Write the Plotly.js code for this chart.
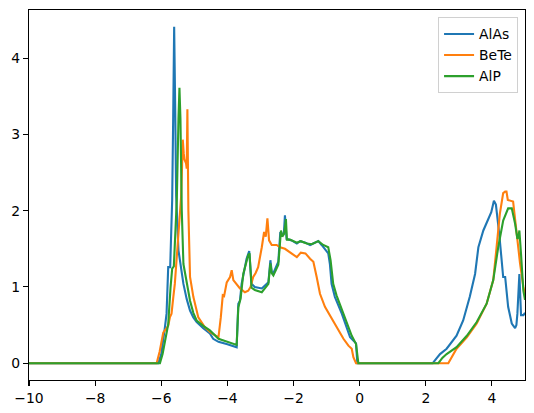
<!DOCTYPE html>
<html>
<head>
<meta charset="utf-8">
<script src="https://cdn.plot.ly/plotly-3.0.1.min.js"></script>
<style>
  html, body { margin: 0; padding: 0; background: #fff; }
  #chart { width: 534px; height: 413px; }
</style>
</head>
<body>
<div id="chart"></div>
<script>
// values (energy, density)
const alasX = [-10, -6.09, -6.0, -5.94, -5.89, -5.84, -5.80, -5.79, -5.73, -5.70, -5.67, -5.64, -5.61, -5.58, -5.55, -5.48, -5.40, -5.33, -5.23, -5.13, -5.03, -4.93, -4.73, -4.53, -4.43, -4.27, -4.0, -3.72, -3.67, -3.62, -3.57, -3.42, -3.34, -3.30, -3.27, -3.17, -2.96, -2.76, -2.70, -2.66, -2.61, -2.46, -2.40, -2.36, -2.29, -2.26, -2.21, -2.06, -1.90, -1.80, -1.64, -1.50, -1.40, -1.25, -1.15, -1.05, -0.95, -0.90, -0.85, -0.75, -0.54, -0.29, -0.17, -0.11, -0.07, 2.21, 2.30, 2.43, 2.63, 2.93, 3.13, 3.33, 3.49, 3.59, 3.74, 3.90, 3.98, 4.06, 4.12, 4.22, 4.34, 4.40, 4.49, 4.60, 4.70, 4.74, 4.77, 4.83, 4.86, 4.88, 4.95, 5.0];
const alasY = [0, 0, 0.12, 0.29, 0.47, 0.65, 1.2, 1.26, 1.26, 1.8, 2.14, 3.2, 4.41, 3.4, 2.2, 1.48, 1.22, 1.04, 0.84, 0.69, 0.60, 0.54, 0.46, 0.39, 0.32, 0.28, 0.25, 0.21, 0.78, 0.82, 1.04, 1.37, 1.47, 1.2, 1.04, 1.0, 0.98, 1.06, 1.35, 1.2, 1.18, 1.33, 1.72, 1.66, 1.72, 1.94, 1.63, 1.61, 1.57, 1.60, 1.58, 1.55, 1.57, 1.60, 1.55, 1.50, 1.44, 1.30, 1.04, 0.87, 0.65, 0.34, 0.28, 0.26, 0, 0, 0.05, 0.12, 0.19, 0.36, 0.56, 0.87, 1.17, 1.52, 1.74, 1.90, 1.98, 2.13, 2.08, 1.70, 1.13, 1.13, 0.74, 0.52, 0.46, 0.50, 0.65, 1.17, 0.8, 0.63, 0.63, 0.66];

const beteX = [-10, -6.14, -6.05, -5.99, -5.94, -5.89, -5.79, -5.74, -5.69, -5.64, -5.59, -5.53, -5.48, -5.43, -5.40, -5.37, -5.35, -5.32, -5.30, -5.25, -5.23, -5.21, -5.18, -5.13, -5.03, -4.88, -4.68, -4.50, -4.27, -4.20, -4.14, -4.10, -4.02, -3.92, -3.87, -3.82, -3.72, -3.62, -3.47, -3.37, -3.30, -3.22, -3.15, -3.07, -2.96, -2.89, -2.84, -2.79, -2.74, -2.66, -2.51, -2.41, -2.26, -2.01, -1.90, -1.78, -1.64, -1.50, -1.40, -1.30, -1.20, -1.05, -0.90, -0.70, -0.49, -0.34, -0.24, -0.19, -0.11, 2.68, 2.93, 3.24, 3.54, 3.84, 4.04, 4.14, 4.24, 4.34, 4.40, 4.44, 4.48, 4.64, 4.74, 4.85, 4.95, 5.0];
const beteY = [0, 0, 0.15, 0.29, 0.40, 0.43, 0.49, 0.60, 0.65, 0.85, 1.04, 1.40, 1.70, 2.0, 2.18, 2.6, 2.93, 2.75, 2.67, 2.62, 2.55, 3.33, 2.0, 1.13, 0.87, 0.60, 0.47, 0.40, 0.34, 0.60, 0.89, 0.88, 1.06, 1.13, 1.22, 1.09, 1.03, 0.98, 0.93, 0.95, 1.0, 1.13, 1.18, 1.26, 1.52, 1.72, 1.66, 1.90, 1.61, 1.55, 1.55, 1.52, 1.50, 1.42, 1.39, 1.45, 1.44, 1.37, 1.33, 1.13, 0.91, 0.74, 0.63, 0.47, 0.32, 0.23, 0.19, 0.08, 0, 0, 0.19, 0.34, 0.52, 0.78, 1.09, 1.52, 1.96, 2.23, 2.25, 2.25, 2.14, 2.12, 1.70, 1.31, 1.0, 0.9];

const alpX = [-10, -6.04, -5.96, -5.89, -5.79, -5.72, -5.67, -5.62, -5.58, -5.53, -5.48, -5.45, -5.42, -5.38, -5.33, -5.23, -5.13, -5.03, -4.93, -4.73, -4.53, -4.27, -4.0, -3.72, -3.67, -3.64, -3.60, -3.52, -3.37, -3.33, -3.30, -3.27, -3.17, -2.96, -2.76, -2.70, -2.66, -2.61, -2.46, -2.38, -2.34, -2.28, -2.23, -2.20, -2.11, -1.90, -1.78, -1.60, -1.45, -1.25, -1.10, -0.95, -0.88, -0.80, -0.70, -0.49, -0.24, -0.11, -0.04, 2.38, 2.50, 2.63, 2.93, 3.24, 3.54, 3.84, 4.04, 4.19, 4.34, 4.49, 4.60, 4.70, 4.77, 4.80, 4.83, 4.88, 4.95, 5.0];
const alpY = [0, 0, 0.12, 0.29, 0.51, 0.99, 1.24, 1.27, 1.6, 2.14, 3.2, 3.61, 3.2, 2.0, 1.30, 1.05, 0.82, 0.66, 0.56, 0.49, 0.43, 0.32, 0.28, 0.24, 0.73, 0.80, 0.85, 1.17, 1.42, 1.44, 1.2, 0.99, 0.96, 0.93, 1.04, 1.31, 1.18, 1.15, 1.29, 1.74, 1.66, 1.70, 1.89, 1.62, 1.62, 1.58, 1.60, 1.57, 1.56, 1.60, 1.55, 1.52, 1.35, 1.04, 0.89, 0.65, 0.36, 0.25, 0, 0, 0.07, 0.12, 0.21, 0.36, 0.54, 0.78, 1.09, 1.52, 1.87, 2.03, 2.03, 1.83, 1.63, 1.65, 1.74, 1.43, 0.95, 0.83];

const seriesNames = ['AlAs', 'BeTe', 'AlP'];
const seriesColors = ['#1f77b4', '#ff7f0e', '#2ca02c'];

const font = {family: 'DejaVu Sans, sans-serif', size: 13.9, color: '#000'};

function line(x, y, i) {
	return {
		x: x,
		y: y,
		name: seriesNames[i],
		mode: 'lines',
		type: 'scatter',
		line: {color: seriesColors[i], width: 2.1},
		hoverinfo: 'skip'
	}
}

const traces = [
	line(alasX, alasY, 0),
	line(beteX, beteY, 1),
	line(alpX, alpY, 2)
];

const axis = {
	showgrid: false,
	zeroline: false,
	showline: true,
	mirror: true,
	linecolor: '#000',
	linewidth: 1.1,
	ticks: 'outside',
	ticklen: 5,
	tickwidth: 1.1,
	tickcolor: '#000',
	tickfont: font
};

const layout = {
	width: 534,
	height: 413,
	margin: {l: 29, r: 9, t: 10, b: 33, pad: 0},
	paper_bgcolor: '#fff',
	plot_bgcolor: '#fff',
	font: font,
	showlegend: true,
	xaxis: Object.assign({}, axis, {range: [-10, 5], dtick: 2, tick0: 0}),
	yaxis: Object.assign({}, axis, {range: [-0.22, 4.63], dtick: 1, tick0: 0}),
	legend: {
		x: 0.986,
		y: 0.98,
		xanchor: 'right',
		yanchor: 'top',
		bgcolor: 'rgba(255,255,255,0.8)',
		bordercolor: '#d0d0d0',
		borderwidth: 1,
		itemwidth: 30,
		font: font
	}
};

Plotly.newPlot('chart', traces, layout, {staticPlot: true, displayModeBar: false});
</script>
</body>
</html>
